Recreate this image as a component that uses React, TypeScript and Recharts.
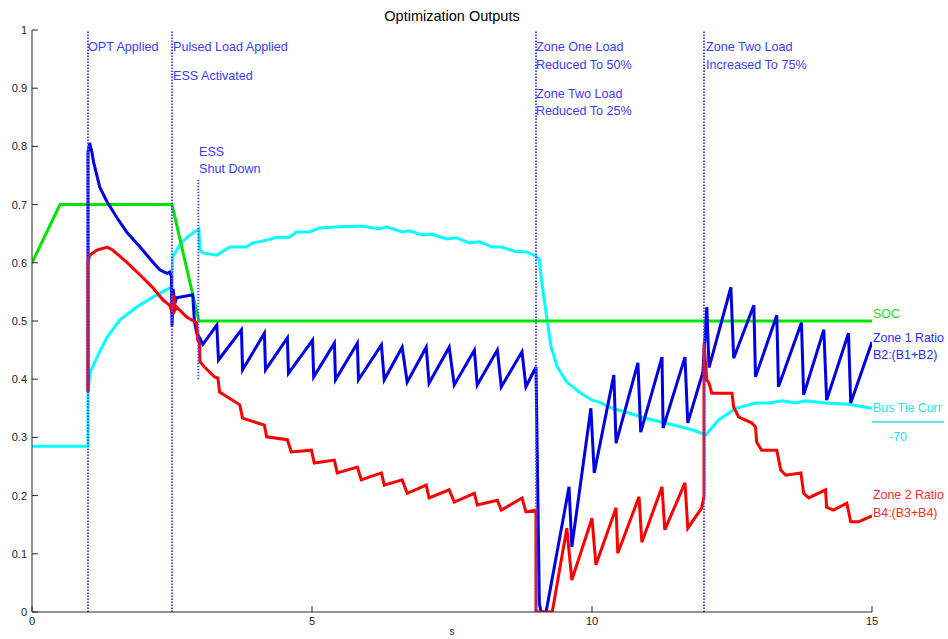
import { LineChart, Line, XAxis, YAxis, ReferenceLine } from 'recharts';

// layout of the plot box (MATLAB-like figure)
const W = 948;
const H = 639;
const PLOT_LEFT = 32;
const PLOT_TOP = 30;
const PLOT_RIGHT = 872;
const PLOT_BOTTOM = 612;
const AXIS = '#262626';
const MARKER = '#4d4dff';
const FONT = '"Liberation Sans", Arial, Helvetica, sans-serif';

const xTicks = [0, 5, 10, 15];
const yTicks = [0, 0.1, 0.2, 0.3, 0.4, 0.5, 0.6, 0.7, 0.8, 0.9, 1];

// event markers (s)
const eventTimes = [1, 2.5, 9, 12];
const essShutdownTime = 2.97;
const essShutdownRange = [0.4, 0.745];

// SOC
const socX = [0, 0.5, 2.5, 2.98, 15];
const socY = [0.6, 0.7, 0.7, 0.5, 0.5];

// Zone 1 Ratio B2:(B1+B2)
const zone1X = [
  1.0, 1.0, 1.03, 1.07, 1.1, 1.21, 1.34, 1.52, 1.69, 1.93, 2.16, 2.28, 2.41, 2.46, 2.49, 2.5, 2.52, 2.55, 2.58,
  2.87, 2.9, 2.94, 3.0, 3.05, 3.3, 3.33, 3.74, 3.76, 4.15, 4.17, 4.56, 4.58, 5.01, 5.03, 5.4, 5.42, 5.81, 5.83,
  6.24, 6.29, 6.61, 6.7, 7.04, 7.09, 7.45, 7.54, 7.9, 7.95, 8.31, 8.38, 8.75, 8.82, 9.0, 9.06, 9.09, 9.18,
  9.59, 9.64, 9.98, 10.04, 10.39, 10.43, 10.82, 10.87, 11.25, 11.27, 11.66, 11.71, 11.98, 12.05, 12.09,
  12.48, 12.53, 12.89, 12.92, 13.3, 13.33, 13.74, 13.78, 14.14, 14.19, 14.58, 14.62, 15.0,
];
const zone1Y = [
  0.38, 0.79, 0.806, 0.79, 0.773, 0.73, 0.705, 0.677, 0.653, 0.627, 0.601, 0.588, 0.582, 0.584, 0.576, 0.49,
  0.555, 0.53, 0.54, 0.545, 0.5, 0.48, 0.47, 0.46, 0.493, 0.433, 0.485, 0.416, 0.479, 0.416, 0.471, 0.41,
  0.467, 0.404, 0.462, 0.399, 0.462, 0.399, 0.459, 0.399, 0.455, 0.395, 0.455, 0.393, 0.455, 0.39, 0.45,
  0.39, 0.45, 0.387, 0.447, 0.387, 0.421, 0.015, 0, 0, 0.215, 0.112, 0.35, 0.239, 0.407, 0.29, 0.428,
  0.309, 0.438, 0.316, 0.438, 0.325, 0.412, 0.524, 0.42, 0.558, 0.436, 0.527, 0.404, 0.51, 0.387, 0.497,
  0.373, 0.485, 0.364, 0.479, 0.359, 0.464,
];

// Zone 2 Ratio B4:(B3+B4)
const zone2X = [
  1.0, 1.0, 1.03, 1.16, 1.34, 1.44, 1.69, 1.93, 2.16, 2.34, 2.46, 2.5, 2.53, 2.56, 2.58, 2.76, 2.94, 2.96, 2.99,
  3.0, 3.08, 3.26, 3.32, 3.35, 3.71, 3.76, 4.15, 4.19, 4.56, 4.63, 4.99, 5.04, 5.4, 5.45, 5.81, 5.88, 6.24,
  6.29, 6.61, 6.7, 7.04, 7.09, 7.45, 7.54, 7.9, 7.95, 8.31, 8.38, 8.75, 8.82, 9.0, 9.0, 9.29, 9.55, 9.64,
  10.0, 10.07, 10.43, 10.46, 10.84, 10.89, 11.25, 11.3, 11.66, 11.71, 11.96, 12.0, 12.0, 12.05, 12.09,
  12.14, 12.5, 12.53, 12.62, 12.85, 12.92, 12.94, 13.03, 13.3, 13.37, 13.46, 13.73, 13.78, 13.87, 14.17,
  14.19, 14.31, 14.55, 14.62, 14.76, 15.0,
];
const zone2Y = [
  0.378, 0.601, 0.613, 0.622, 0.627, 0.622, 0.601, 0.579, 0.557, 0.536, 0.527, 0.515, 0.545, 0.52, 0.524,
  0.507, 0.497, 0.467, 0.462, 0.43, 0.421, 0.404, 0.402, 0.378, 0.356, 0.333, 0.321, 0.301, 0.296, 0.275,
  0.278, 0.256, 0.261, 0.239, 0.249, 0.227, 0.239, 0.218, 0.227, 0.204, 0.218, 0.196, 0.21, 0.189, 0.204,
  0.184, 0.192, 0.175, 0.196, 0.172, 0.175, 0, 0, 0.144, 0.055, 0.161, 0.081, 0.179, 0.101, 0.198, 0.12,
  0.215, 0.141, 0.222, 0.144, 0.179, 0.2, 0.462, 0.399, 0.393, 0.376, 0.376, 0.352, 0.335, 0.325, 0.318,
  0.292, 0.278, 0.278, 0.244, 0.235, 0.239, 0.204, 0.196, 0.21, 0.18, 0.175, 0.187, 0.155, 0.155, 0.165,
];

// Bus Tie Curr (scaled)
const busTieX = [
  0, 1.0, 1.0, 1.03, 1.16, 1.34, 1.57, 1.87, 2.16, 2.46, 2.5, 2.51, 2.64, 2.76, 2.87, 2.98, 3.0, 3.05, 3.3,
  3.53, 3.83, 3.94, 4.19, 4.37, 4.6, 4.72, 4.96, 5.13, 5.49, 5.9, 6.2, 6.33, 6.61, 6.74, 6.97, 7.15, 7.4,
  7.58, 7.81, 7.99, 8.22, 8.38, 8.65, 8.82, 8.97, 9.06, 9.09, 9.18, 9.27, 9.38, 9.55, 9.77, 10.0, 10.12,
  10.36, 10.66, 10.96, 11.25, 11.6, 11.85, 12.03, 12.26, 12.57, 12.92, 13.16, 13.39, 13.64, 13.81, 14.17,
  14.58, 15.0,
];
const busTieY = [
  0.285, 0.285, 0.376, 0.41, 0.438, 0.472, 0.502, 0.524, 0.541, 0.557, 0.558, 0.61, 0.631, 0.643, 0.651,
  0.658, 0.622, 0.617, 0.613, 0.627, 0.627, 0.634, 0.639, 0.644, 0.644, 0.653, 0.653, 0.66, 0.662, 0.663,
  0.658, 0.662, 0.653, 0.655, 0.648, 0.649, 0.641, 0.643, 0.634, 0.636, 0.627, 0.627, 0.619, 0.619, 0.613,
  0.605, 0.576, 0.514, 0.455, 0.421, 0.395, 0.378, 0.364, 0.361, 0.35, 0.342, 0.333, 0.326, 0.318, 0.311,
  0.304, 0.33, 0.35, 0.359, 0.359, 0.363, 0.359, 0.363, 0.359, 0.357, 0.35,
];

const toPoints = (xs: number[], ys: number[]) => xs.map((x, i) => ({ x, y: ys[i] }));

const series = [
  { name: 'Bus Tie Curr', color: '#00ffff', data: toPoints(busTieX, busTieY) },
  { name: 'SOC', color: '#00e600', data: toPoints(socX, socY) },
  { name: 'Zone 1 Ratio', color: '#0000e6', data: toPoints(zone1X, zone1Y) },
  { name: 'Zone 2 Ratio', color: '#ff0000', data: toPoints(zone2X, zone2Y) },
];

const annotations = [
  { x: 88, y: 51, text: 'OPT Applied' },
  { x: 173, y: 51, text: 'Pulsed Load Applied' },
  { x: 173, y: 80, text: 'ESS Activated' },
  { x: 199, y: 156, text: 'ESS' },
  { x: 199, y: 173, text: 'Shut Down' },
  { x: 536, y: 51, text: 'Zone One Load' },
  { x: 536, y: 69, text: 'Reduced To 50%' },
  { x: 536, y: 98, text: 'Zone Two Load' },
  { x: 536, y: 115, text: 'Reduced To 25%' },
  { x: 706, y: 51, text: 'Zone Two Load' },
  { x: 706, y: 69, text: 'Increased To 75%' },
];

const sideLabels = [
  { y: 318, text: 'SOC', color: '#22dd22' },
  { y: 342, text: 'Zone 1 Ratio', color: '#2a2aff' },
  { y: 359, text: 'B2:(B1+B2)', color: '#2a2aff' },
  { y: 412, text: 'Bus Tie Curr', color: '#22e6e6' },
  { y: 499, text: 'Zone 2 Ratio', color: '#ff2a2a' },
  { y: 517, text: 'B4:(B3+B4)', color: '#ff2a2a' },
];

function YTick({ y, payload }: any) {
  return (
    <g>
      <line x1={PLOT_LEFT} x2={PLOT_LEFT + 6} y1={y} y2={y} stroke={AXIS} />
      <text x={PLOT_LEFT - 5} y={y + 4} textAnchor="end" fontSize={11} fontFamily={FONT} fill="#222">
        {String(payload.value)}
      </text>
    </g>
  );
}

function XTick({ x, payload }: any) {
  return (
    <g>
      <line x1={x} x2={x} y1={PLOT_BOTTOM} y2={PLOT_BOTTOM - 6} stroke={AXIS} />
      <text x={x} y={PLOT_BOTTOM + 13} textAnchor="middle" fontSize={11} fontFamily={FONT} fill="#222">
        {String(payload.value)}
      </text>
    </g>
  );
}

export default function App() {
  return (
    <div style={{ position: 'absolute', left: 0, top: 0, width: W, height: H, background: '#fff' }}>
      <LineChart
        width={W}
        height={H}
        margin={{ top: PLOT_TOP, right: W - PLOT_RIGHT, bottom: 0, left: 0 }}
      >
        <XAxis
          type="number"
          dataKey="x"
          domain={[0, 15]}
          ticks={xTicks}
          allowDataOverflow
          height={H - PLOT_BOTTOM}
          axisLine={{ stroke: AXIS }}
          tickLine={false}
          tick={<XTick />}
        />
        <YAxis
          type="number"
          dataKey="y"
          domain={[0, 1]}
          ticks={yTicks}
          allowDataOverflow
          width={PLOT_LEFT}
          axisLine={{ stroke: AXIS }}
          tickLine={false}
          tick={<YTick />}
        />
        {series.map((s) => (
          <Line
            key={s.name}
            data={s.data}
            dataKey="y"
            name={s.name}
            type="linear"
            stroke={s.color}
            strokeWidth={3}
            dot={false}
            activeDot={false}
            isAnimationActive={false}
          />
        ))}
        {eventTimes.map((t) => (
          <ReferenceLine key={t} x={t} stroke={MARKER} strokeWidth={2} strokeDasharray="1.5 1.5" />
        ))}
        <ReferenceLine
          segment={[
            { x: essShutdownTime, y: essShutdownRange[0] },
            { x: essShutdownTime, y: essShutdownRange[1] },
          ]}
          stroke={MARKER}
          strokeWidth={2}
          strokeDasharray="1.5 1.5"
        />
      </LineChart>
      <svg
        width={W}
        height={H}
        style={{ position: 'absolute', left: 0, top: 0, pointerEvents: 'none' }}
        fontFamily={FONT}
      >
        <text x={452} y={21} textAnchor="middle" fontSize={14.5} fill="#000">
          Optimization Outputs
        </text>
        <text x={452} y={635} textAnchor="middle" fontSize={10} fill="#222">
          s
        </text>
        {annotations.map((a, i) => (
          <text key={i} x={a.x} y={a.y} fontSize={12.6} fill="#3c3cff">
            {a.text}
          </text>
        ))}
        {sideLabels.map((l, i) => (
          <text key={i} x={PLOT_RIGHT + 1} y={l.y} fontSize={12.4} fill={l.color}>
            {l.text}
          </text>
        ))}
        <line x1={PLOT_RIGHT} x2={944} y1={422} y2={422} stroke="#22e6e6" strokeWidth={1.5} />
        <text x={889} y={441} fontSize={12.4} fill="#22e6e6">
          -70
        </text>
      </svg>
    </div>
  );
}
